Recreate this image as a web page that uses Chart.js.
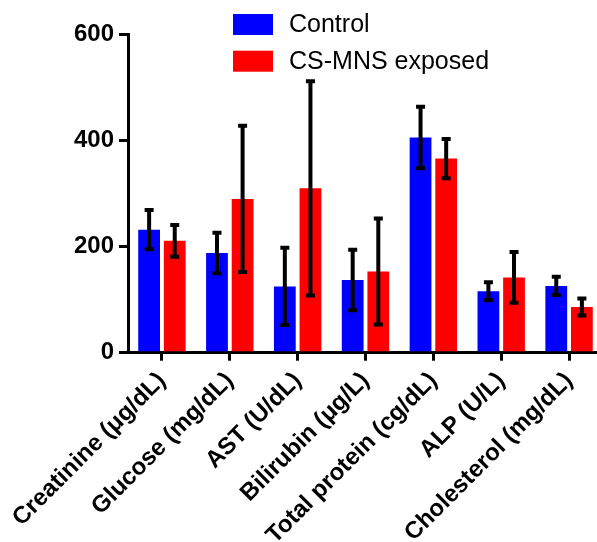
<!DOCTYPE html>
<html>
<head>
<meta charset="utf-8">
<script src="https://cdn.jsdelivr.net/npm/chart.js@4/dist/chart.umd.min.js"></script>
<style>
  html, body { margin: 0; padding: 0; background: #fff; overflow: hidden; }
  canvas { display: block; }
</style>
</head>
<body>
<canvas id="chart" width="610" height="542"></canvas>
<script>
// Serum biochemistry: mean ± SD per parameter
const categories = [
  'Creatinine (μg/dL)',
  'Glucose (mg/dL)',
  'AST (U/dL)',
  'Bilirubin (μg/L)',
  'Total protein (cg/dL)',
  'ALP (U/L)',
  'Cholesterol (mg/dL)'
];
const seriesNames = ['Control', 'CS-MNS exposed'];
const controlMean = [232, 188, 125, 137, 406, 116, 126];
const controlSD   = [37, 38, 73, 57, 58, 17, 17];
const exposedMean = [211, 290, 310, 153, 366, 142, 86];
const exposedSD   = [30, 138, 202, 100, 37, 48, 16];
const yTicks = [0, 200, 400, 600];

const FONT = '"Liberation Sans", Arial, sans-serif';

// Vertical error bars with flat caps, drawn on top of the bars
const errorBars = {
  id: 'errorBars',
  afterDatasetsDraw(chart) {
    const ctx = chart.ctx;
    const y = chart.scales.y;
    chart.data.datasets.forEach((ds, i) => {
      const meta = chart.getDatasetMeta(i);
      meta.data.forEach((bar, j) => {
        const m = ds.data[j], sd = ds.sd[j];
        const top = y.getPixelForValue(m + sd);
        const bot = y.getPixelForValue(m - sd);
        ctx.save();
        ctx.strokeStyle = '#000';
        ctx.lineCap = 'butt';
        ctx.lineWidth = 4;
        ctx.beginPath();
        ctx.moveTo(bar.x, top);
        ctx.lineTo(bar.x, bot);
        ctx.stroke();
        ctx.beginPath();
        ctx.moveTo(bar.x - 4.5, top); ctx.lineTo(bar.x + 4.5, top);
        ctx.moveTo(bar.x - 4.5, bot); ctx.lineTo(bar.x + 4.5, bot);
        ctx.stroke();
        ctx.restore();
      });
    });
  }
};

// Legend placed inside the plot, upper middle
const insideLegend = {
  id: 'insideLegend',
  afterDraw(chart) {
    const ctx = chart.ctx;
    const x0 = 233, y0 = 14, boxW = 40, boxH = 21, rowGap = 36.7;
    ctx.save();
    ctx.font = '25px ' + FONT;
    ctx.textBaseline = 'middle';
    ctx.textAlign = 'left';
    chart.data.datasets.forEach((ds, i) => {
      const yy = y0 + i * rowGap;
      ctx.fillStyle = ds.backgroundColor;
      ctx.fillRect(x0, yy, boxW, boxH);
      ctx.fillStyle = '#000';
      ctx.fillText(ds.label, 289, yy + boxH / 2 + 1);
    });
    ctx.restore();
  }
};

new Chart(document.getElementById('chart'), {
  type: 'bar',
  data: {
    labels: categories,
    datasets: [
      { label: seriesNames[0], data: controlMean, sd: controlSD, backgroundColor: '#0000ff', borderWidth: 0,
        categoryPercentage: 0.755, barPercentage: 0.85 },
      { label: seriesNames[1], data: exposedMean, sd: exposedSD, backgroundColor: '#ff0000', borderWidth: 0,
        categoryPercentage: 0.755, barPercentage: 0.85 }
    ]
  },
  options: {
    responsive: false,
    animation: false,
    devicePixelRatio: 1,
    layout: { padding: { top: 34.5, left: 0, right: 7, bottom: 0 } },
    plugins: { legend: { display: false }, tooltip: { enabled: false } },
    scales: {
      x: {
        offset: true,
        border: { display: true, color: '#000', width: 3 },
        grid: { offset: false, drawOnChartArea: false, drawTicks: true, tickLength: 8, color: '#000', lineWidth: 3 },
        ticks: {
          autoSkip: false, minRotation: 45, maxRotation: 45, padding: 6,
          color: '#000', font: { family: FONT, size: 24, weight: 'bold' }
        },
        afterFit(scale) { scale.height = 542 - 352.7; }
      },
      y: {
        min: 0, max: 600,
        afterBuildTicks(scale) { scale.ticks = yTicks.map(v => ({ value: v })); },
        border: { display: true, color: '#000', width: 3 },
        grid: { drawOnChartArea: false, drawTicks: true, tickLength: 9, color: '#000', lineWidth: 3 },
        ticks: { padding: 5, color: '#000', font: { family: FONT, size: 24, weight: 'bold' } },
        afterFit(scale) { scale.width = 128; }
      }
    }
  },
  plugins: [errorBars, insideLegend]
});
</script>
</body>
</html>
